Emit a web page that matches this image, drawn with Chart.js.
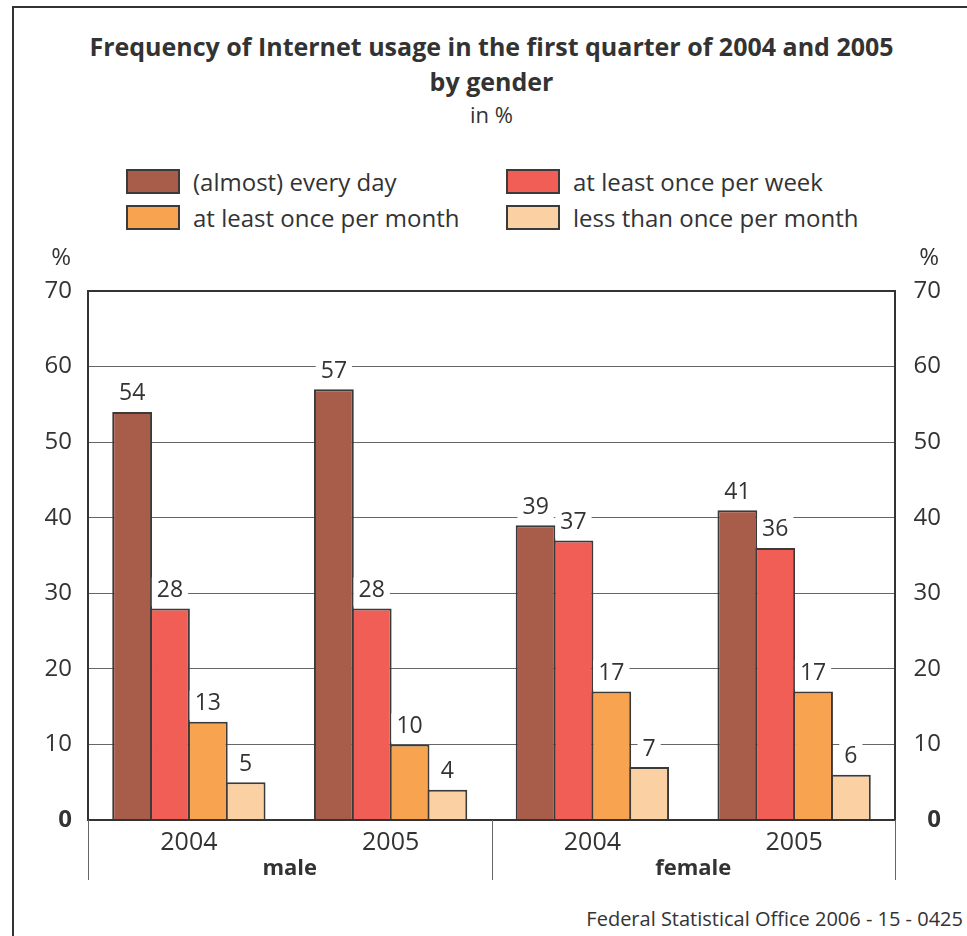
<!DOCTYPE html>
<html>
<head>
<meta charset="utf-8">
<script src="https://cdn.jsdelivr.net/npm/chart.js@4"></script>
<style>
  html, body { margin: 0; padding: 0; background: #fff; }
  body { width: 967px; height: 936px; position: relative; overflow: hidden; font-family: "Open Sans", sans-serif; color: #333; }
  #frame { position: absolute; left: 12px; top: 6px; width: 1200px; height: 1200px; border-left: 2px solid #333; border-top: 2px solid #333; }
  #title { position: absolute; left: 88px; width: 807px; top: 29px; text-align: center; }
  #title .main { font-weight: bold; font-size: 25px; line-height: 35px; }
  #title .sub { font-size: 22px; line-height: 30px; }
  .legend-item { position: absolute; height: 24px; display: flex; align-items: center; font-size: 24px; }
  .legend-item span.box { display: inline-block; width: 50px; height: 21px; border: 2px solid #3a3a3a; margin-right: 13px; }
  #footer { position: absolute; right: 4px; top: 905px; font-size: 20px; }
  #chart { position: absolute; left: 0; top: 0; }
</style>
</head>
<body>
<div id="frame"></div>
<div id="title">
  <div class="main">Frequency of Internet usage in the first quarter of 2004 and 2005<br>by gender</div>
  <div class="sub">in %</div>
</div>
<div id="legend"></div>
<div id="footer">Federal Statistical Office 2006 - 15 - 0425</div>
<canvas id="chart" width="967" height="936"></canvas>
<script>
// categories: year inside each gender group
const groups = ['male', 'female'];
const years = ['2004', '2005', '2004', '2005'];

const seriesNames = ['(almost) every day', 'at least once per week', 'at least once per month', 'less than once per month'];
const seriesColors = ['#a85c4a', '#f05e56', '#f7a34f', '#fbd0a2'];

const everyDay = [54, 57, 39, 41];
const perWeek = [28, 28, 37, 36];
const perMonth = [13, 10, 17, 17];
const lessMonth = [5, 4, 7, 6];

const yTicks = [0, 10, 20, 30, 40, 50, 60, 70];

const textColor = '#333';
const fontFamily = '"Open Sans", sans-serif';

// legend, two columns
const legendPos = [[126, 169], [506, 169], [126, 205], [506, 205]];
const legendEl = document.getElementById('legend');
seriesNames.forEach(function (name, i) {
    const item = document.createElement('div');
    item.className = 'legend-item';
    item.style.left = legendPos[i][0] + 'px';
    item.style.top = legendPos[i][1] + 'px';
    const box = document.createElement('span');
    box.className = 'box';
    box.style.background = seriesColors[i];
    item.appendChild(box);
    item.appendChild(document.createTextNode(name));
    legendEl.appendChild(item);
});

// numbers above bars on a white patch
const valueLabels = {
    id: 'valueLabels',
    afterDatasetsDraw(chart) {
        const c = chart.ctx;
        c.save();
        c.font = '23px ' + fontFamily;
        c.textAlign = 'center';
        c.textBaseline = 'middle';
        chart.data.datasets.forEach(function (ds, di) {
            const meta = chart.getDatasetMeta(di);
            meta.data.forEach(function (bar, i) {
                const txt = String(ds.data[i]);
                const w = c.measureText(txt).width + 10;
                const cy = bar.y - 18;
                c.fillStyle = '#fff';
                c.fillRect(bar.x - w / 2, cy - 13, w, bar.y - 2 - (cy - 13));
                c.fillStyle = textColor;
                c.fillText(txt, bar.x, cy);
            });
        });
        c.restore();
    }
};

// gender groups under the year labels, % marks above the axes
const groupAxis = {
    id: 'groupAxis',
    afterDraw(chart) {
        const c = chart.ctx;
        const x = chart.scales.x;
        const area = chart.chartArea;
        const mid = (x.getPixelForValue(1) + x.getPixelForValue(2)) / 2;
        c.save();
        c.strokeStyle = '#666';
        c.lineWidth = 1;
        [area.left, mid, area.right].forEach(function (px) {
            px = Math.round(px) + 0.5;
            c.beginPath();
            c.moveTo(px, area.bottom);
            c.lineTo(px, area.bottom + 60);
            c.stroke();
        });
        c.fillStyle = textColor;
        c.font = 'bold 22px ' + fontFamily;
        c.textAlign = 'center';
        c.textBaseline = 'middle';
        groups.forEach(function (g, gi) {
            const cx = (x.getPixelForValue(gi * 2) + x.getPixelForValue(gi * 2 + 1)) / 2;
            c.fillText(g, cx, area.bottom + 49);
        });
        c.font = '24px ' + fontFamily;
        c.textAlign = 'right';
        c.fillText('%', 71, 258);
        c.fillText('%', 939, 258);
        c.restore();
    }
};

const tickFont = function (ctx) {
    return { family: fontFamily, size: 24, weight: ctx.tick && ctx.tick.value === 0 ? 'bold' : 'normal' };
};

const datasets = [everyDay, perWeek, perMonth, lessMonth].map(function (vals, i) {
    return {
        label: seriesNames[i],
        data: vals,
        backgroundColor: seriesColors[i],
        borderColor: '#3a3a3a',
        borderWidth: 2,
        categoryPercentage: 0.75,
        barPercentage: 1.053
    };
});

new Chart(document.getElementById('chart'), {
    type: 'bar',
    data: { labels: years, datasets: datasets },
    plugins: [valueLabels, groupAxis],
    options: {
        responsive: false,
        animation: false,
        layout: { padding: { left: 0, right: 26, top: 291, bottom: 56 } },
        plugins: {
            legend: { display: false },
            title: { display: false },
            tooltip: { enabled: false }
        },
        scales: {
            x: {
                grid: { display: false },
                border: { display: false },
                ticks: { color: textColor, font: { family: fontFamily, size: 25 }, padding: 0 },
                afterFit(scale) { scale.height = 60; }
            },
            y: {
                min: 0,
                max: 70,
                afterBuildTicks(scale) { scale.ticks = yTicks.map(v => ({ value: v })); },
                grid: {
                    drawTicks: false,
                    color: ctx => (ctx.tick.value === 0 || ctx.tick.value === 70) ? '#333' : '#666',
                    lineWidth: ctx => (ctx.tick.value === 0 || ctx.tick.value === 70) ? 2 : 1
                },
                border: { display: true, color: '#333', width: 2 },
                ticks: { color: textColor, font: tickFont, padding: 16 },
                afterFit(scale) { scale.width = 88; }
            },
            y2: {
                position: 'right',
                min: 0,
                max: 70,
                afterBuildTicks(scale) { scale.ticks = yTicks.map(v => ({ value: v })); },
                grid: { display: false, drawTicks: false },
                border: { display: true, color: '#333', width: 2 },
                ticks: { color: textColor, font: tickFont, crossAlign: 'far' },
                afterFit(scale) { scale.width = 46; }
            }
        }
    }
});
</script>
</body>
</html>
